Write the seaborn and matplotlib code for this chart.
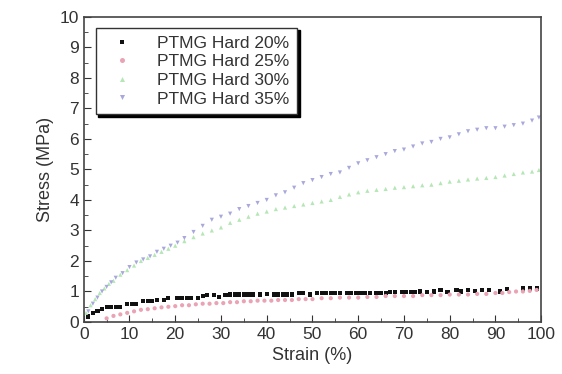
import pandas as pd
import seaborn as sns
import matplotlib.pyplot as plt
from matplotlib.ticker import MultipleLocator

# PTMG Hard 20%
strain_20 = [1, 2, 3, 4, 5, 6, 7, 8, 9.5, 10.5,
             11.5, 13, 14, 15, 16, 17.5, 18.5, 20.5, 21.5, 22.5,
             23.5, 25, 26, 27, 28.5, 29.5, 31, 32, 33, 34,
             35, 36, 37, 38.5, 40, 41.5, 42.5, 43.5, 44.5, 45.5,
             47, 48, 49.5, 51, 52, 53, 54, 55, 56, 57.5,
             58.5, 59.5, 60.5, 61.5, 62.5, 64, 65, 66, 67, 68,
             69.5, 70.5, 71.5, 72.5, 73.5, 75, 76.5, 78, 79.5, 81.5,
             82.5, 84, 85.5, 87, 88.5, 91, 92.5, 96, 97.5, 99]
stress_20 = [0.18, 0.3, 0.35, 0.42, 0.48, 0.5, 0.5, 0.5, 0.6, 0.6,
             0.6, 0.68, 0.68, 0.7, 0.72, 0.72, 0.78, 0.8, 0.8, 0.78,
             0.8, 0.8, 0.85, 0.88, 0.88, 0.82, 0.88, 0.9, 0.9, 0.9,
             0.9, 0.9, 0.9, 0.9, 0.92, 0.9, 0.9, 0.9, 0.9, 0.9,
             0.95, 0.95, 0.9, 0.95, 0.95, 0.95, 0.95, 0.95, 0.95, 0.95,
             0.95, 0.95, 0.95, 0.95, 0.95, 0.95, 0.95, 0.95, 0.97, 0.97,
             0.97, 0.97, 0.97, 0.98, 1.0, 0.97, 1.0, 1.05, 0.98, 1.05,
             1.0, 1.05, 1.02, 1.05, 1.05, 1.0, 1.08, 1.1, 1.1, 1.1]

# PTMG Hard 25%
strain_25 = [5, 6.5, 8, 9.5, 11, 12.5, 14, 15.5, 17, 18.5,
             20, 21.5, 23, 24.5, 26, 27.5, 29, 30.5, 32, 33.5,
             35, 36.5, 38, 39.5, 41, 42.5, 44, 45.5, 47, 48.5,
             50, 52, 54, 56, 58, 60, 62, 64, 66, 68,
             70, 72, 74, 76, 78, 80, 82, 84, 86, 88,
             90, 91.5, 93, 94.5, 96, 97.5, 99]
stress_25 = [0.12, 0.2, 0.25, 0.3, 0.35, 0.4, 0.42, 0.45, 0.48, 0.5,
             0.52, 0.55, 0.55, 0.58, 0.6, 0.6, 0.62, 0.62, 0.65, 0.65,
             0.68, 0.68, 0.7, 0.7, 0.7, 0.72, 0.72, 0.72, 0.75, 0.75,
             0.75, 0.78, 0.78, 0.8, 0.8, 0.8, 0.82, 0.82, 0.85, 0.85,
             0.85, 0.85, 0.88, 0.88, 0.88, 0.9, 0.9, 0.9, 0.92, 0.92,
             0.95, 0.95, 0.98, 1.0, 1.0, 1.02, 1.05]

# PTMG Hard 30%
strain_30 = [0.5, 1.5, 2.5, 3.5, 4.5, 5.5, 6.5, 8, 9.5, 11,
             12.5, 14, 15.5, 17, 18.5, 20, 22, 24, 26, 28,
             30, 32, 34, 36, 38, 40, 42, 44, 46, 48,
             50, 52, 54, 56, 58, 60, 62, 64, 66, 68,
             70, 72, 74, 76, 78, 80, 82, 84, 86, 88,
             90, 92, 94, 96, 98, 99.5]
stress_30 = [0.3, 0.55, 0.75, 0.95, 1.1, 1.25, 1.35, 1.55, 1.7, 1.85,
             2.0, 2.1, 2.2, 2.3, 2.4, 2.5, 2.65, 2.78, 2.9, 3.0,
             3.1, 3.25, 3.35, 3.45, 3.55, 3.62, 3.7, 3.75, 3.8, 3.85,
             3.9, 3.95, 4.0, 4.1, 4.18, 4.25, 4.3, 4.33, 4.36, 4.4,
             4.42, 4.45, 4.48, 4.5, 4.55, 4.6, 4.63, 4.67, 4.7, 4.72,
             4.75, 4.8, 4.85, 4.9, 4.93, 4.98]

# PTMG Hard 35%
strain_35 = [1, 2, 3, 4, 5, 6, 7, 8.5, 10, 11.5,
             13, 14.5, 16, 17.5, 19, 20.5, 22, 24, 26, 28,
             30, 32, 34, 36, 38, 40, 42, 44, 46, 48,
             50, 52, 54, 56, 58, 60, 62, 64, 66, 68,
             70, 72, 74, 76, 78, 80, 82, 84, 86, 88,
             90, 92, 94, 96, 98, 99.5]
stress_35 = [0.35, 0.6, 0.8, 1.0, 1.15, 1.3, 1.45, 1.6, 1.8, 1.95,
             2.05, 2.15, 2.3, 2.4, 2.5, 2.6, 2.75, 2.95, 3.15, 3.35,
             3.45, 3.55, 3.7, 3.8, 3.9, 4.0, 4.15, 4.25, 4.4, 4.55,
             4.65, 4.75, 4.85, 4.9, 5.05, 5.2, 5.3, 5.4, 5.5, 5.6,
             5.65, 5.75, 5.85, 5.9, 6.0, 6.05, 6.15, 6.25, 6.3, 6.35,
             6.35, 6.4, 6.45, 6.5, 6.6, 6.7]

labels = ["PTMG Hard 20%", "PTMG Hard 25%", "PTMG Hard 30%", "PTMG Hard 35%"]

frames = []
for lab, xs, ys in zip(labels,
                       [strain_20, strain_25, strain_30, strain_35],
                       [stress_20, stress_25, stress_30, stress_35]):
    frames.append(pd.DataFrame({"strain": xs, "stress": ys, "sample": lab}))
df = pd.concat(frames, ignore_index=True)

sns.set_style("ticks")
plt.rcParams["font.family"] = ["Liberation Sans", "DejaVu Sans"]

fig = plt.figure(figsize=(5.62, 3.74), dpi=100)
ax = fig.add_axes([0.149, 0.139, 0.814, 0.816])

palette = {labels[0]: "#111111", labels[1]: "#eaa3b4",
           labels[2]: "#b5e6b5", labels[3]: "#a8a8dc"}
markers = {labels[0]: "s", labels[1]: "o", labels[2]: "^", labels[3]: "v"}

sns.scatterplot(data=df, x="strain", y="stress", hue="sample", style="sample",
                palette=palette, markers=markers, s=9, linewidth=0, ax=ax)

ax.set_xlim(0, 100)
ax.set_ylim(0, 10)
ax.xaxis.set_major_locator(MultipleLocator(10))
ax.xaxis.set_minor_locator(MultipleLocator(5))
ax.yaxis.set_major_locator(MultipleLocator(1))
ax.yaxis.set_minor_locator(MultipleLocator(0.5))
ax.tick_params(which="both", direction="in", colors="#333333", labelsize=12.5)
ax.tick_params(which="major", length=5)
ax.tick_params(which="minor", length=3)
for sp in ax.spines.values():
    sp.set_color("#444444")
    sp.set_linewidth(1.2)

ax.set_xlabel("Strain (%)", fontsize=13, color="#333333")
ax.set_ylabel("Stress (MPa)", fontsize=13, color="#333333")

leg = ax.legend(loc="upper left", bbox_to_anchor=(0.022, 0.97), frameon=True,
                fancybox=False, shadow={"color": "black", "alpha": 1.0},
                fontsize=12.5, markerscale=1.2, handlelength=2.2,
                handletextpad=0.9, borderpad=0.45, labelspacing=0.2,
                borderaxespad=0.1)
leg.get_frame().set_edgecolor("#333333")
leg.get_frame().set_linewidth(1.0)
for t in leg.get_texts():
    t.set_color("#333333")

fig.savefig("out.png", dpi=100)
